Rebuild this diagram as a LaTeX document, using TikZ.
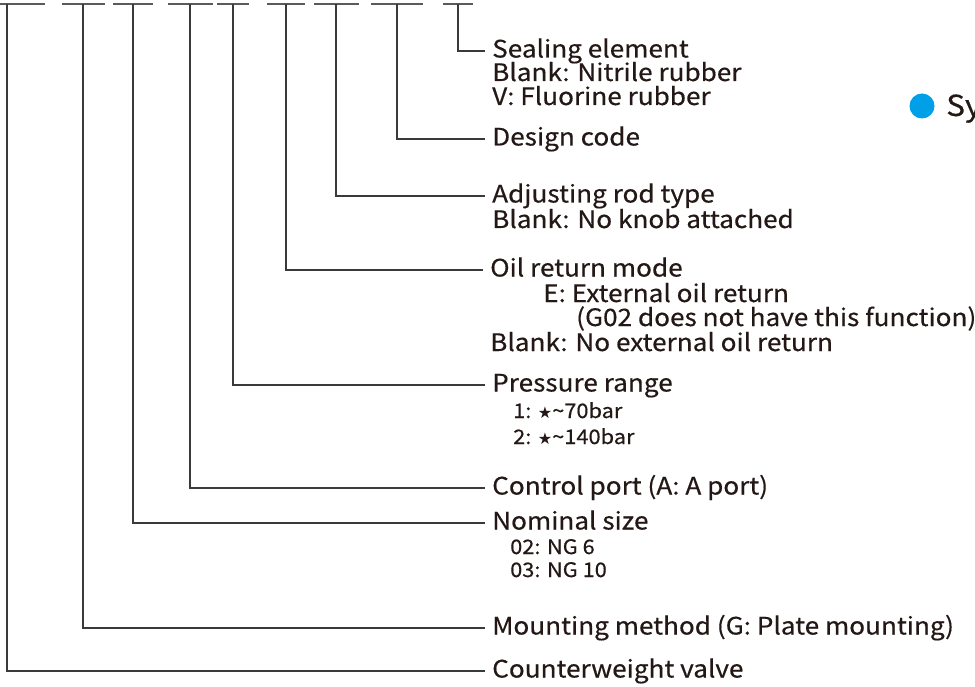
\documentclass[tikz,border=0pt]{standalone}
\usepackage{fontspec}
\setmainfont{Noto Sans CJK SC}[FakeStretch=1.09, FakeBold=0.4]
\newfontfamily\symfont{DejaVu Sans}
\usepackage{xcolor}
\usetikzlibrary{positioning}
\definecolor{ink}{HTML}{231815}
\definecolor{leadgray}{HTML}{3A3A3A}
\definecolor{slotgray}{HTML}{5A5A5A}
\definecolor{dotblue}{HTML}{00A0E9}
\newcommand{\starmark}{{\symfont\fontsize{16}{16}\selectfont ★}}

\begin{document}
\begin{tikzpicture}[x=1pt, y=-1pt,
			slot/.style={fill=slotgray, rectangle, inner sep=0, minimum height=2pt},
			head/.style={anchor=west, inner xsep=7pt, inner ysep=0, text height=18pt, text depth=5pt,
				text=ink, font=\fontsize{24}{26}\selectfont},
			line/.style={anchor=base west, inner sep=0, text=ink, font=\fontsize{24}{26}\selectfont},
			small/.style={anchor=base west, inner sep=0, text=ink, font=\fontsize{20}{22}\selectfont},
			lead/.style={draw=leadgray, line width=1.3pt}]
			
			\clip (0,0) rectangle (975,687);
			\fill[white] (0,0) rectangle (975,687);
			
			% blanks of the model code
			\node[slot, minimum width=76pt] (s1) at (7,4) {};
			\node[slot, minimum width=43pt] (s2) at (83,4) {};
			\node[slot, minimum width=40pt] (s3) at (133,4) {};
			\node[slot, minimum width=45pt] (s4) at (190,4) {};
			\node[slot, minimum width=32pt] (s5) at (233,4) {};
			\node[slot, minimum width=38pt] (s6) at (286,4) {};
			\node[slot, minimum width=45pt] (s7) at (336,4) {};
			\node[slot, minimum width=52pt] (s8) at (397,4) {};
			\node[slot, minimum width=30pt] (s9) at (458,4) {};
			
			% headings
			\node[head] (seal) at (485,51) {Sealing element};
			\node[head] (design) at (485,139) {Design code};
			\node[head] (rod) at (485,196) {Adjusting rod type};
			\node[head] (oil) at (483,270) {Oil return mode};
			\node[head] (press) at (485,385) {Pressure range};
			\node[head] (port) at (485,488) {Control port (A: A port)};
			\node[head] (size) at (485,523) {Nominal size};
			\node[head] (mount) at (485,628) {Mounting method (G: Plate mounting)};
			\node[head] (valve) at (485,671) {Counterweight valve};
			
			% options
			\node[line] (nbr) at (492,81) {Blank: Nitrile rubber};
			\node[line] (fkm) at (492,105) {V: Fluorine rubber};
			\node[line] (knob) at (492,228) {Blank: No knob attached};
			\node[line] (ext) at (543,302) {E: External oil return};
			\node[line] (note) at (576,326) {(G02 does not have this function)};
			\node[line] (noext) at (490,351) {Blank: No external oil return};
			\node[small] (p1) at (513,418) {1: \starmark\textasciitilde70bar};
			\node[small] (p2) at (513,444) {2: \starmark\textasciitilde140bar};
			\node[small] (ng6) at (510,554) {02: NG 6};
			\node[small] (ng10) at (510,577) {03: NG 10};
			
			% leaders
			\draw[lead] (s9.center) |- (seal.west);
			\draw[lead] (s8.center) |- (design.west);
			\draw[lead] (s7.center) |- (rod.west);
			\draw[lead] (s6.center) |- (oil.west);
			\draw[lead] (s5.center) |- (press.west);
			\draw[lead] (s4.center) |- (port.west);
			\draw[lead] (s3.center) |- (size.west);
			\draw[lead] (s2.center) |- (mount.west);
			\draw[lead] (s1.center) |- (valve.west);
			
			% section title, cut by the page edge
			\node[circle, fill=dotblue, minimum size=25pt, inner sep=0] (dot) at (922,106) {};
			\node[anchor=base west, inner sep=0, text=ink, font=\fontsize{29}{32}\selectfont] (title) at (946,116) {Sy};
			
		\end{tikzpicture}
\end{document}
